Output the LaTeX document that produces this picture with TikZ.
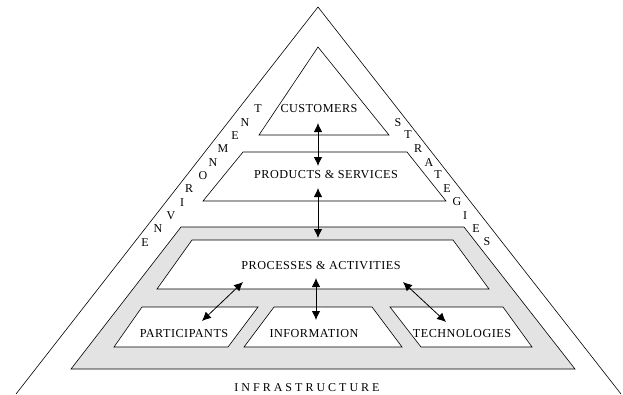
\documentclass[tikz,border=0pt]{standalone}
\usepackage{fontspec}
\setmainfont{Liberation Serif}
\newfontfamily\loose[LetterSpace=4]{Liberation Serif}
\usetikzlibrary{arrows.meta}
\tikzset{
  tier/.style={draw=black, fill=white, line width=0.6pt},
  txt/.style={inner sep=0pt, font=\fontsize{12.2}{14}\loose},
  edge/.style={inner sep=0pt, font=\fontsize{12}{14}\selectfont},
  link/.style={{Latex[length=9pt,width=8.5pt]}-{Latex[length=9pt,width=8.5pt]}, line width=0.8pt},
}
\begin{document}
\begin{tikzpicture}[x=1pt,y=-1pt]
    \useasboundingbox (0,0) rectangle (623,394);
    % outer pyramid
    \draw[line width=0.6pt] (16,394) -- (318,7) -- (621,394);
    % tiers
    \draw[tier] (318,47) -- (389,135) -- (259,135) -- cycle;
    \draw[tier] (243,152) -- (407,152) -- (446,201) -- (203,201) -- cycle;
    \draw[tier, fill=gray!22] (181,227) -- (464,227) -- (575,369) -- (71,369) -- cycle;
    \draw[tier] (192,240) -- (453,240) -- (489,289) -- (157,289) -- cycle;
    \draw[tier] (142,307) -- (258,307) -- (228,347) -- (114,347) -- cycle;
    \draw[tier] (274,307) -- (372,307) -- (402,347) -- (244,347) -- cycle;
    \draw[tier] (390,307) -- (503,307) -- (532,347) -- (421,347) -- cycle;
    % labels
    \node[txt] (cust) at (319,109) {CUSTOMERS};
    \node[txt] (prod) at (326,175) {PRODUCTS \& SERVICES};
    \node[txt] (proc) at (321,266) {PROCESSES \& ACTIVITIES};
    \node[txt] (part) at (184,334) {PARTICIPANTS};
    \node[txt] (info) at (314,334) {INFORMATION};
    \node[txt] (tech) at (462,334) {TECHNOLOGIES};
    \node[txt, font=\fontsize{12}{14}\selectfont] (infra) at (307,388)
      {I\kern3pt N\kern3pt F\kern3pt R\kern3pt A\kern3pt S\kern3pt T\kern3pt R\kern3pt U\kern3pt C\kern3pt T\kern3pt U\kern3pt R\kern3pt E};
    % side letters
    \foreach \l/\x/\y in {E/145/243,N/158/229,V/171/216,I/182/203,R/189/189,O/203/176,N/213/163,M/223/149,E/235/136,N/245/123,T/258/109}
      \node[edge] at (\x,\y) {\l};
    \foreach \l/\x/\y in {S/398/123,T/408/135,R/418/149,A/429/163,T/438/175,E/447/189,G/457/202,I/465/216,E/476/229,S/487/242}
      \node[edge] at (\x,\y) {\l};
    % arrow ends
    \coordinate (a1) at (318,123);
    \coordinate (a2) at (318,166);
    \coordinate (b1) at (318,188);
    \coordinate (b2) at (318,238);
    \coordinate (c1) at (243,282);
    \coordinate (c2) at (202,321);
    \coordinate (d1) at (316,278);
    \coordinate (d2) at (316,320);
    \coordinate (e1) at (403,282);
    \coordinate (e2) at (446,322);
    \draw[link] (a1) -- (a2);
    \draw[link] (b1) -- (b2);
    \draw[link] (c1) -- (c2);
    \draw[link] (d1) -- (d2);
    \draw[link] (e1) -- (e2);
\end{tikzpicture}
\end{document}
